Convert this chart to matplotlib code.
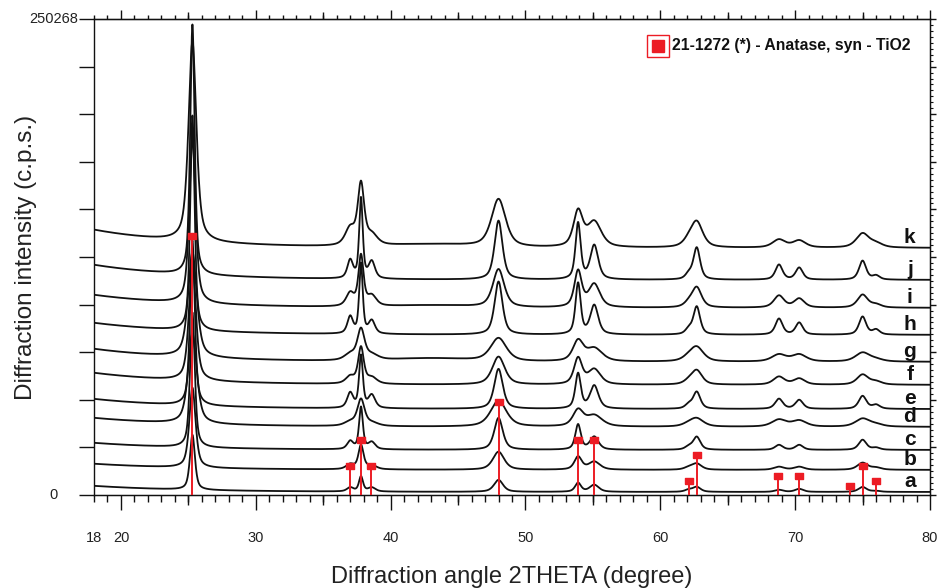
import numpy as np
import matplotlib
matplotlib.use("Agg")
import matplotlib.pyplot as plt
import matplotlib.transforms as mtransforms
from matplotlib.ticker import FixedLocator, MultipleLocator, NullLocator

plt.rcParams['font.family'] = ['Liberation Sans', 'DejaVu Sans']

# ---------------- data ----------------
samples = ['a', 'b', 'c', 'd', 'e', 'f', 'g', 'h', 'i', 'j', 'k']

# anatase reflections seen in the patterns (2theta, degree)
peak_pos = [25.3, 37.0, 37.8, 38.6, 48.0, 53.9, 55.1, 62.1, 62.7, 68.8, 70.3, 75.0, 76.0]
peak_width_factor = [0.55, 0.7, 0.45, 0.8, 1.0, 0.65, 1.0, 0.8, 0.85, 0.9, 0.9, 0.9, 0.9]

# peak heights above background, kcps
heights_a = [28.9, 2.1, 7.9, 2.1, 6.3, 4.7, 3.7, 1.1, 2.6, 1.1, 1.6, 2.6, 0.5]
heights_b = [42.1, 2.6, 12.6, 2.1, 9.5, 6.8, 4.2, 1.1, 3.2, 1.6, 1.6, 3.7, 1.1]
heights_c = [71.0, 4.2, 22.1, 3.7, 16.8, 13.2, 6.8, 1.6, 6.8, 2.6, 2.6, 5.3, 1.1]
heights_d = [47.3, 2.1, 13.7, 1.6, 13.7, 8.4, 5.8, 1.1, 4.2, 3.7, 3.2, 4.2, 1.1]
heights_e = [86.8, 7.9, 27.4, 6.8, 21.0, 18.4, 12.1, 2.1, 8.9, 5.3, 4.7, 6.8, 2.1]
heights_f = [63.1, 3.7, 18.9, 3.2, 14.7, 13.7, 7.9, 1.6, 7.4, 4.2, 3.2, 5.3, 1.6]
heights_g = [55.2, 3.2, 15.8, 2.6, 12.1, 10.5, 6.8, 1.6, 7.4, 3.7, 3.7, 4.7, 1.1]
heights_h = [113.1, 8.9, 36.8, 6.8, 27.9, 26.8, 15.3, 2.6, 14.7, 8.4, 6.3, 9.5, 2.6]
heights_i = [86.8, 6.8, 26.3, 5.3, 20.0, 18.9, 12.1, 2.1, 10.5, 6.3, 4.7, 6.8, 1.6]
heights_j = [131.5, 9.5, 42.1, 8.9, 31.0, 29.5, 17.9, 2.6, 16.8, 7.9, 6.3, 10.0, 2.1]
heights_k = [105.2, 8.9, 31.6, 5.3, 25.2, 18.4, 13.2, 2.6, 13.2, 4.2, 3.7, 7.4, 2.1]
heights = [heights_a, heights_b, heights_c, heights_d, heights_e, heights_f,
           heights_g, heights_h, heights_i, heights_j, heights_k]

# FWHM of the 48 degree reflection of each sample (degree)
fwhm = [0.8, 1.0, 0.75, 1.4, 0.75, 1.1, 1.4, 0.7, 1.0, 0.7, 1.25]
# flat background level (kcps) = stacking offset
baseline = [1.6, 13.2, 23.7, 35.8, 45.2, 57.9, 70.0, 84.2, 98.4, 113.1, 129.9]
# extra background at the low-angle end (kcps)
low_angle_rise = [3.2, 3.2, 3.7, 4.7, 5.3, 6.3, 6.8, 6.3, 6.8, 7.9, 9.5]
# weak broad hump near 43 degree (kcps)
hump = [0.0, 0.0, 0.0, 0.0, 0.0, 0.0, 1.6, 0.0, 1.1, 0.0, 1.6]

# JCPDS 21-1272 anatase reference
ref_pos = [25.28, 36.95, 37.80, 38.58, 48.05, 53.89, 55.06, 62.12, 62.69,
           68.76, 70.31, 74.03, 75.03, 76.02]
ref_int = [100, 10, 20, 10, 35, 20, 20, 4, 14, 6, 6, 2, 10, 4]
ref_scale = 1.34  # kcps per percent in the stick pattern

y_max = 250268
x_ticks = [18, 20, 30, 40, 50, 60, 70, 80]

# ---------------- figure ----------------
fig = plt.figure(figsize=(9.4, 5.88), dpi=100)
ax = fig.add_axes([94 / 940, 1 - 495 / 588, 836 / 940, 476 / 588])

two_theta = np.linspace(18, 80, 4001)


def pseudo_voigt(x, x0, h, fw, eta=0.6):
    z = (x - x0) / fw
    return h * (eta / (1 + 4 * z ** 2) + (1 - eta) * np.exp(-4 * np.log(2) * z ** 2))


for s in range(len(samples)):
    y = (baseline[s] + low_angle_rise[s] * np.exp(-(two_theta - 18) / 7.0)
         + hump[s] * np.exp(-((two_theta - 43) / 4.0) ** 2))
    for p, h, wf in zip(peak_pos, heights[s], peak_width_factor):
        y = y + pseudo_voigt(two_theta, p, h, fwhm[s] * wf)
    ax.plot(two_theta, y * 1000, color='#111111', lw=1.3, zorder=2)
    off = mtransforms.ScaledTranslation(0, 5 / 100, fig.dpi_scale_trans)
    ax.text(78.5, baseline[s] * 1000, samples[s], transform=ax.transData + off,
            ha='center', va='baseline', fontsize=15, fontweight='bold',
            color='#111111', zorder=5)

red = '#ec1c24'
ref_top = np.array(ref_int) * ref_scale * 1000
ax.vlines(ref_pos, 0, ref_top, color=red, lw=1.4, zorder=3)
rect = [(-1, -0.7), (1, -0.7), (1, 0.7), (-1, 0.7), (-1, -0.7)]
moff = mtransforms.ScaledTranslation(0, 4 / 100, fig.dpi_scale_trans)
ax.plot(ref_pos, ref_top, ls='none', marker=rect, markersize=6, color=red,
        transform=ax.transData + moff, zorder=4)

ax.set_xlim(18, 80)
ax.set_ylim(0, y_max)

for sp in ax.spines.values():
    sp.set_linewidth(1.0)
    sp.set_color('#111111')

# bottom ticks
ax.xaxis.set_major_locator(FixedLocator(x_ticks))
ax.xaxis.set_minor_locator(MultipleLocator(1))
ax.tick_params(axis='x', which='major', direction='out', length=10.8, width=1.0,
               labelsize=10.5, pad=15, colors='#111111', labelcolor='#222222')
ax.tick_params(axis='x', which='minor', direction='out', length=5.0, width=1.0,
               colors='#111111')
ax.xaxis.get_major_ticks()[0].tick1line.set_markersize(5.0)

sec_b = ax.secondary_xaxis('bottom')
sec_b.xaxis.set_major_locator(FixedLocator([25, 35, 45, 55, 65, 75]))
sec_b.xaxis.set_minor_locator(NullLocator())
sec_b.tick_params(axis='x', direction='out', length=7.5, width=1.0, labelbottom=False,
                  colors='#111111')

# top ticks
sec_t = ax.secondary_xaxis('top')
sec_t.xaxis.set_major_locator(FixedLocator(x_ticks[1:]))
sec_t.xaxis.set_minor_locator(MultipleLocator(1))
sec_t.tick_params(axis='x', which='major', direction='out', length=6.3, width=1.0,
                  labeltop=False, colors='#111111')
sec_t.tick_params(axis='x', which='minor', direction='out', length=2.8, width=1.0,
                  colors='#111111')
sec_t2 = ax.secondary_xaxis('top')
sec_t2.xaxis.set_major_locator(FixedLocator([25, 35, 45, 55, 65, 75]))
sec_t2.xaxis.set_minor_locator(NullLocator())
sec_t2.tick_params(axis='x', direction='out', length=4.8, width=1.0, labeltop=False,
                   colors='#111111')

# left ticks
ax.yaxis.set_major_locator(FixedLocator(np.linspace(0, y_max, 11)))
ax.tick_params(axis='y', which='major', direction='out', length=10.8, width=1.0,
               labelleft=False, colors='#111111')
for v in (0, y_max):
    ax.text(-0.048, v, str(v), transform=ax.get_yaxis_transform(), ha='center',
            va='center', fontsize=10.5, color='#222222')

# right ticks
sec_r = ax.secondary_yaxis('right')
sec_r.yaxis.set_major_locator(FixedLocator(np.linspace(0, y_max, 11)))
sec_r.yaxis.set_minor_locator(FixedLocator(np.linspace(0, y_max, 81)))
sec_r.tick_params(axis='y', which='major', direction='out', length=4.5, width=1.0,
                  labelright=False, colors='#111111')
sec_r.tick_params(axis='y', which='minor', direction='out', length=2.5, width=0.8,
                  colors='#111111')

ax.set_xlabel('Diffraction angle 2THETA (degree)', fontsize=17, color='#222222')
ax.xaxis.set_label_coords(0.5, -0.15)
ax.set_ylabel('Diffraction intensity (c.p.s.)', fontsize=17.5, color='#222222')
ax.yaxis.set_label_coords(-0.068, 0.5)

# legend
ax.plot([0.6746], [0.9433], transform=ax.transAxes, marker='s', markersize=15.5,
        markerfacecolor='white', markeredgecolor=red, markeredgewidth=1.0, ls='none',
        clip_on=False, zorder=6)
ax.plot([0.6746], [0.9433], transform=ax.transAxes, marker='s', markersize=9.2,
        color=red, ls='none', clip_on=False, zorder=7)
ax.text(0.6914, 0.9433, '21-1272 (*) - Anatase, syn - TiO2', transform=ax.transAxes,
        ha='left', va='center', fontsize=11.3, fontweight='bold', color='#111111')

fig.savefig('out.png', dpi=100)
